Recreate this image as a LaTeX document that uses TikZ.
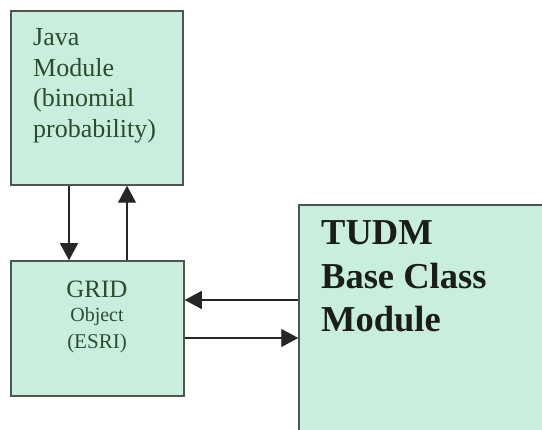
\documentclass[tikz,border=0pt]{standalone}
\usepackage{fontspec}
\setmainfont{Liberation Serif}
\usetikzlibrary{arrows.meta}
\definecolor{boxfill}{RGB}{202,238,222}
\definecolor{boxline}{RGB}{80,85,80}
\definecolor{smalltxt}{RGB}{45,75,45}
\definecolor{bigtxt}{RGB}{25,30,25}
\tikzset{
  modbox/.style={draw=boxline, line width=1.5pt, fill=boxfill, inner sep=0pt},
  arr/.style={draw=black!85, line width=1.3pt, -{Triangle[length=17pt,width=18pt]}},
  smalltext/.style={text=smalltxt, inner sep=0pt, font=\fontsize{26}{30.5}\selectfont, align=left},
  gridline/.style={text=smalltxt, inner sep=0pt, anchor=base},
}
\begin{document}
\begin{tikzpicture}[x=1pt,y=-1pt]
\useasboundingbox (0,0) rectangle (542,430);
\clip (0,0) rectangle (542,430);
\fill[white] (0,0) rectangle (542,430);
% boxes
\node[modbox, minimum width=172pt, minimum height=174pt] (java) at (97,98) {};
\node[modbox, minimum width=173pt, minimum height=135pt] (grid) at (97.5,328.5) {};
\node[modbox, minimum width=270pt, minimum height=250pt] (tudm) at (434,330) {};
% texts (base anchor = baseline of last line)
\node[smalltext, anchor=base west] (javatext) at (33,137.5) {Java\\Module\\(binomial\\probability)};
\node[gridline, font=\fontsize{25}{28}\selectfont] (gridt1) at (97,298) {GRID};
\node[gridline, font=\fontsize{20}{24}\selectfont] (gridt2) at (97,322) {Object};
\node[gridline, font=\fontsize{21}{24}\selectfont] (gridt3) at (97,349) {(ESRI)};
\node[text=bigtxt, inner sep=0pt, align=left, anchor=base west, font=\fontsize{36.5}{43.5}\selectfont\bfseries] (tudmtext) at (321,332)
  {TUDM\\Base Class\\Module};
% connectors
\coordinate (xa) at (69,0);
\coordinate (xb) at (127,0);
\coordinate (ya) at (0,300);
\coordinate (yb) at (0,338);
\draw[arr] (java.south -| xa) -- (grid.north -| xa);
\draw[arr] (grid.north -| xb) -- (java.south -| xb);
\draw[arr] (tudm.west |- ya) -- (grid.east |- ya);
\draw[arr] (grid.east |- yb) -- (tudm.west |- yb);
\end{tikzpicture}
\end{document}
